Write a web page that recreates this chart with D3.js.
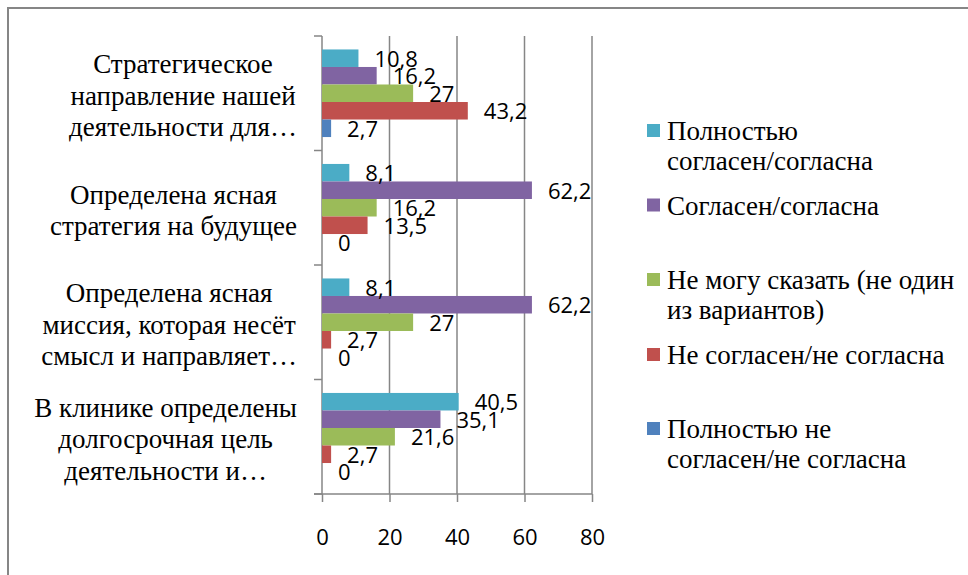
<!DOCTYPE html>
<html><head><meta charset="utf-8">
<script src="https://cdn.jsdelivr.net/npm/d3@7"></script>
<style>html,body{margin:0;padding:0;background:#fff;}svg{display:block;}</style>
</head><body>
<svg id="chart" width="968" height="575"></svg>
<script>
// ---- data ----
const categories = [
  ["Стратегическое", "направление нашей", "деятельности для…"],
  ["Определена ясная", "стратегия на будущее"],
  ["Определена ясная", "миссия, которая несёт", "смысл и направляет…"],
  ["В клинике определены", "долгосрочная цель", "деятельности и…"]
];
const seriesNames = [
  ["Полностью", "согласен/согласна"],
  ["Согласен/согласна"],
  ["Не могу сказать (не один", "из вариантов)"],
  ["Не согласен/не согласна"],
  ["Полностью не", "согласен/не согласна"]
];
const seriesColors = ["#4BACC6", "#8064A2", "#9BBB59", "#C0504D", "#4F81BD"];
// values per series, in category order
const fullyAgree    = [10.8, 8.1, 8.1, 40.5];
const agree         = [16.2, 62.2, 62.2, 35.1];
const cannotSay     = [27, 16.2, 27, 21.6];
const disagree      = [43.2, 13.5, 2.7, 2.7];
const fullyDisagree = [2.7, 0, 0, 0];
const seriesValues = [fullyAgree, agree, cannotSay, disagree, fullyDisagree];
const xTicks = [0, 20, 40, 60, 80];

// ---- drawing ----
const SERIF = "'Liberation Serif', 'Times New Roman', serif";
const SANS = "'Open Sans', 'Noto Sans', sans-serif";
const svg = d3.select("#chart");
const gridColor = "#868686";

// outer frame
svg.append("rect").attr("x", 8).attr("y", 8).attr("width", 1000).attr("height", 600)
  .attr("fill", "none").attr("stroke", gridColor).attr("stroke-width", 2);

const x = d3.scaleLinear().domain([0, 80]).range([322, 592]);
const y = d3.scaleBand().domain(d3.range(categories.length)).range([36, 494])
  .paddingInner(0.235).paddingOuter(0.1175);
const ys = d3.scaleBand().domain(d3.range(seriesValues.length)).range([0, y.bandwidth()]);
const step = y.step();

// gridlines
svg.append("g").selectAll("line").data(xTicks.slice(1)).join("line")
  .attr("x1", d => x(d)).attr("x2", d => x(d)).attr("y1", 36).attr("y2", 494)
  .attr("stroke", gridColor).attr("stroke-width", 1.5);

// x axis
const xAxis = d3.axisBottom(x).tickValues(xTicks).tickSize(8).tickSizeOuter(0).tickFormat(d => d);
const gx = svg.append("g").attr("transform", "translate(0,494)").call(xAxis);
gx.select(".domain").remove();
gx.append("line").attr("x1", 314).attr("x2", 592).attr("y1", 0).attr("y2", 0)
  .attr("stroke", gridColor).attr("stroke-width", 1.5);
gx.selectAll(".tick line").attr("stroke", gridColor).attr("stroke-width", 1.5);
gx.selectAll(".tick text").attr("fill", "#000").attr("dy", null).attr("y", 51)
  .style("font-family", SANS).style("font-size", "22px");

// y axis line + ticks at band boundaries
const gy = svg.append("g");
gy.append("line").attr("x1", 322).attr("x2", 322).attr("y1", 36).attr("y2", 494)
  .attr("stroke", gridColor).attr("stroke-width", 1.5);
const boundaries = d3.range(categories.length + 1).map(i => 36 + i * step);
gy.selectAll("line.t").data(boundaries).join("line").attr("class", "t")
  .attr("x1", 314).attr("x2", 322).attr("y1", d => d).attr("y2", d => d)
  .attr("stroke", gridColor).attr("stroke-width", 1.5);

// category labels
const catG = svg.append("g");
categories.forEach((lines, i) => {
  const cy = y(i) + y.bandwidth() / 2;
  const lh = 31.5;
  const g = catG.append("g");
  const texts = lines.map((l, j) => g.append("text")
    .attr("y", cy + (j - (lines.length - 1) / 2) * lh + 11.5)
    .style("font-family", SERIF).style("font-size", "27px").attr("fill", "#000").text(l));
  const maxW = d3.max(texts, t => t.node().getComputedTextLength());
  const cx = 297 - maxW / 2;
  texts.forEach(t => t.attr("x", cx).attr("text-anchor", "middle"));
});

// bars
const fmt = v => String(v).replace(".", ",");
seriesValues.forEach((vals, s) => {
  const g = svg.append("g");
  g.selectAll("rect").data(vals).join("rect")
    .attr("x", x(0)).attr("y", (d, i) => y(i) + ys(s))
    .attr("width", d => x(d) - x(0)).attr("height", ys.bandwidth())
    .attr("fill", seriesColors[s]);
});
// value labels
seriesValues.forEach((vals, s) => {
  svg.append("g").selectAll("text").data(vals).join("text")
    .attr("x", d => x(d) + 16).attr("y", (d, i) => y(i) + ys(s) + ys.bandwidth() / 2 + 8.5)
    .style("font-family", SANS).style("font-size", "22px").attr("fill", "#000")
    .text(d => fmt(d));
});

// legend
const lg = svg.append("g");
const legendTops = [124, 198.5, 273, 348, 422];
seriesNames.forEach((lines, s) => {
  const top = legendTops[s];
  lg.append("rect").attr("x", 647).attr("y", top).attr("width", 13).attr("height", 13)
    .attr("fill", seriesColors[s]);
  lines.forEach((l, j) => {
    lg.append("text").attr("x", 667).attr("y", top + 16 + j * 30)
      .style("font-family", SERIF).style("font-size", "27px").attr("fill", "#000").text(l);
  });
});
</script>
</body></html>
